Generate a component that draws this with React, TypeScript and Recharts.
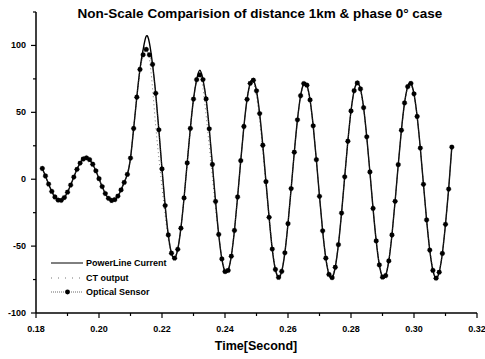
import { Legend, Line, LineChart, XAxis, YAxis } from "recharts";

// samples are 1 ms apart, first one at 182 ms
const sampleStartMs = 182;

const powerLineCurrent = [
  8.0, 2.4, -3.6, -9.1, -13.3, -15.6, -15.8, -13.7, -9.7, -4.4,
  1.6, 7.4, 12.1, 15.1, 16.0, 14.6, 11.2, 6.3, 0.4, -5.5,
  -10.7, -14.3, -15.9, -15.3, -12.6, -8.0, -2.4, 3.6, 15.8, 37.9,
  61.3, 82.1, 96.8, 107.0, 102.0, 85.8, 64.2, 36.9, 7.7, -19.7,
  -41.7, -55.3, -59.0, -52.4, -36.6, -14.0, 12.2, 38.0, 59.9, 74.4,
  81.5, 74.5, 60.0, 37.7, 11.0, -16.6, -41.3, -59.6, -69.0, -68.2,
  -57.5, -38.3, -13.3, 13.9, 39.4, 59.7, 71.7, 74.0, 66.1, 49.1,
  25.4, -1.8, -28.5, -52.2, -67.5, -73.4, -68.9, -55.0, -33.2, -7.0,
  20.2, 44.4, 62.4, 71.5, 70.3, 59.3, 39.9, 14.6, -12.8, -38.6,
  -59.0, -71.2, -73.6, -65.8, -48.9, -25.3, 1.8, 28.4, 51.0, 66.2,
  72.0, 67.5, 53.5, 31.7, 5.4, -21.8, -46.1, -64.1, -73.2, -72.1,
  -61.1, -41.7, -16.5, 10.9, 36.6, 57.0, 69.2, 71.6, 63.8, 46.9,
  23.3, -3.8, -30.4, -53.0, -68.2, -74.0, -69.5, -55.5, -33.7, -7.4,
  24.0,
];

const ctOutput = [
  8.0, 2.4, -3.6, -9.1, -13.3, -15.6, -15.8, -13.7, -9.7, -4.4,
  1.6, 7.4, 12.1, 15.1, 16.0, 14.6, 11.2, 6.3, 0.4, -5.5,
  -10.7, -14.3, -15.9, -15.3, -12.6, -8.0, -2.4, 3.6, 15.8, 37.9,
  61.3, 82.1, 96.8, 98.0, 90.0, 68.0, 40.0, 16.0, -6.0, -27.0,
  -45.0, -56.0, -59.0, -52.4, -36.6, -14.0, 12.2, 38.0, 59.9, 74.4,
  79.0, 68.0, 48.0, 25.0, 2.0, -22.0, -41.3, -59.6, -69.0, -68.2,
  -57.5, -38.3, -13.3, 13.9, 39.4, 59.7, 71.7, 73.0, 62.0, 44.0,
  21.0, -4.0, -28.5, -52.2, -67.5, -73.4, -68.9, -55.0, -33.2, -7.0,
  20.2, 44.4, 62.4, 71.5, 70.3, 59.3, 39.9, 14.6, -12.8, -38.6,
  -59.0, -71.2, -73.6, -65.8, -48.9, -25.3, 1.8, 28.4, 51.0, 66.2,
  72.0, 67.5, 53.5, 31.7, 5.4, -21.8, -46.1, -64.1, -73.2, -72.1,
  -61.1, -41.7, -16.5, 10.9, 36.6, 57.0, 69.2, 71.6, 63.8, 46.9,
  23.3, -3.8, -30.4, -53.0, -68.2, -74.0, -69.5, -55.5, -33.7, -7.4,
  24.0,
];

const opticalSensor = [
  8.0, 2.4, -3.6, -9.1, -13.3, -15.6, -15.8, -13.7, -9.7, -4.4,
  1.6, 7.4, 12.1, 15.1, 16.0, 14.6, 11.2, 6.3, 0.4, -5.5,
  -10.7, -14.3, -15.9, -15.3, -12.6, -8.0, -2.4, 3.6, 15.8, 37.9,
  61.3, 82.1, 93.0, 97.0, 93.0, 85.8, 64.2, 36.9, 7.7, -19.7,
  -41.7, -55.3, -59.0, -52.4, -36.6, -14.0, 12.2, 38.0, 59.9, 74.4,
  78.0, 74.5, 60.0, 37.7, 11.0, -16.6, -41.3, -59.6, -69.0, -68.2,
  -57.5, -38.3, -13.3, 13.9, 39.4, 59.7, 71.7, 74.0, 66.1, 49.1,
  25.4, -1.8, -28.5, -52.2, -67.5, -73.4, -68.9, -55.0, -33.2, -7.0,
  20.2, 44.4, 62.4, 71.5, 70.3, 59.3, 39.9, 14.6, -12.8, -38.6,
  -59.0, -71.2, -73.6, -65.8, -48.9, -25.3, 1.8, 28.4, 51.0, 66.2,
  72.0, 67.5, 53.5, 31.7, 5.4, -21.8, -46.1, -64.1, -73.2, -72.1,
  -61.1, -41.7, -16.5, 10.9, 36.6, 57.0, 69.2, 71.6, 63.8, 46.9,
  23.3, -3.8, -30.4, -53.0, -68.2, -74.0, -69.5, -55.5, -33.7, -7.4,
  24.0,
];

const xTicks = [
  0.18, 0.19, 0.2, 0.21, 0.22, 0.23, 0.24, 0.25, 0.26, 0.27, 0.28, 0.29,
  0.3, 0.31, 0.32,
];
const xLabelTicks = [0.18, 0.2, 0.22, 0.24, 0.26, 0.28, 0.3, 0.32];
const yTicks = [-100, -75, -50, -25, 0, 25, 50, 75, 100, 125];
const yLabelTicks = [-100, -50, 0, 50, 100];

const legendItems = [
  { key: "power", label: "PowerLine Current" },
  { key: "ct", label: "CT output" },
  { key: "optical", label: "Optical Sensor" },
];

const data = powerLineCurrent.map((value, i) => ({
  t: (sampleStartMs + i) / 1000,
  power: value,
  ct: ctOutput[i],
  optical: opticalSensor[i],
}));

const font = '"Liberation Sans", Arial, sans-serif';

function YTick({ x, y, payload }: any) {
  const major = yLabelTicks.includes(payload.value);
  return (
    <g>
      <line
        x1={x - (major ? 5 : 3)}
        x2={x}
        y1={y}
        y2={y}
        stroke="#000"
        strokeWidth={1.2}
      />
      {major && (
        <text
          x={x - 10}
          y={y}
          dy={3}
          textAnchor="end"
          fontFamily={font}
          fontSize={9}
          fontWeight={700}
          fill="#000"
        >
          {payload.value}
        </text>
      )}
    </g>
  );
}

function XTick({ x, y, payload }: any) {
  const major = xLabelTicks.includes(payload.value);
  return (
    <g>
      <line
        x1={x}
        x2={x}
        y1={y}
        y2={y + (major ? 5 : 3)}
        stroke="#000"
        strokeWidth={1.2}
      />
      {major && (
        <text
          x={x}
          y={y + 19}
          textAnchor="middle"
          fontFamily={font}
          fontSize={9}
          fontWeight={700}
          fill="#000"
        >
          {payload.value.toFixed(2)}
        </text>
      )}
    </g>
  );
}

function LegendBox() {
  return (
    <div style={{ fontFamily: font, fontSize: 9, fontWeight: 700, color: "#000" }}>
      {legendItems.map((item, i) => (
        <div
          key={item.key}
          style={{ display: "flex", alignItems: "center", height: i === 0 ? 16 : 14 }}
        >
          <svg width={33} height={8} style={{ marginRight: 2 }}>
            {item.key === "power" && (
              <line x1={0} x2={32} y1={4} y2={4} stroke="#000" strokeWidth={1} />
            )}
            {item.key === "ct" && (
              <line
                x1={0}
                x2={32}
                y1={4}
                y2={4}
                stroke="#777"
                strokeWidth={1}
                strokeDasharray="1 6"
              />
            )}
            {item.key === "optical" && (
              <>
                <line
                  x1={0}
                  x2={32}
                  y1={4}
                  y2={4}
                  stroke="#444"
                  strokeWidth={0.8}
                  strokeDasharray="1 1"
                />
                <circle cx={16.5} cy={4} r={2.4} fill="#000" />
              </>
            )}
          </svg>
          <span>{item.label}</span>
        </div>
      ))}
    </div>
  );
}

export default function App() {
  return (
    <div
      style={{
        position: "absolute",
        left: 0,
        top: 0,
        width: 485,
        height: 359,
        background: "#fff",
      }}
    >
      <div
        style={{
          position: "absolute",
          left: 40,
          top: 6,
          width: 440,
          textAlign: "center",
          fontFamily: font,
          fontSize: 13.5,
          fontWeight: 700,
          lineHeight: "15px",
          color: "#000",
        }}
      >
        Non-Scale Comparision of distance 1km &amp; phase 0° case
      </div>

      <LineChart
        width={485}
        height={359}
        data={data}
        margin={{ top: 12, right: 8, left: 0, bottom: 0 }}
      >
        <XAxis
          dataKey="t"
          type="number"
          domain={[0.18, 0.32]}
          ticks={xTicks}
          interval={0}
          height={46}
          tickSize={0}
          tickMargin={0}
          tickLine={false}
          axisLine={{ stroke: "#000", strokeWidth: 1.5 }}
          tick={<XTick />}
        />
        <YAxis
          type="number"
          domain={[-100, 125]}
          ticks={yTicks}
          interval={0}
          width={36}
          tickSize={0}
          tickMargin={0}
          tickLine={false}
          axisLine={{ stroke: "#000", strokeWidth: 1.5 }}
          tick={<YTick />}
        />
        <Legend
          layout="vertical"
          align="center"
          verticalAlign="middle"
          content={<LegendBox />}
          wrapperStyle={{ left: 51, top: 255, width: 150 }}
        />
        <Line
          dataKey="ct"
          type="natural"
          stroke="#777"
          strokeWidth={1}
          strokeDasharray="1 3"
          dot={false}
          isAnimationActive={false}
        />
        <Line
          dataKey="power"
          type="natural"
          stroke="#000"
          strokeWidth={1.4}
          dot={false}
          isAnimationActive={false}
        />
        <Line
          dataKey="optical"
          type="linear"
          stroke="#333"
          strokeWidth={0.8}
          strokeDasharray="1 1"
          dot={{ r: 2.4, fill: "#000", stroke: "#000", strokeWidth: 0.4 }}
          isAnimationActive={false}
        />
      </LineChart>

      <div
        style={{
          position: "absolute",
          left: 156,
          top: 339,
          width: 200,
          textAlign: "center",
          fontFamily: font,
          fontSize: 12.5,
          fontWeight: 700,
          lineHeight: "14px",
          color: "#000",
        }}
      >
        Time[Second]
      </div>
    </div>
  );
}
